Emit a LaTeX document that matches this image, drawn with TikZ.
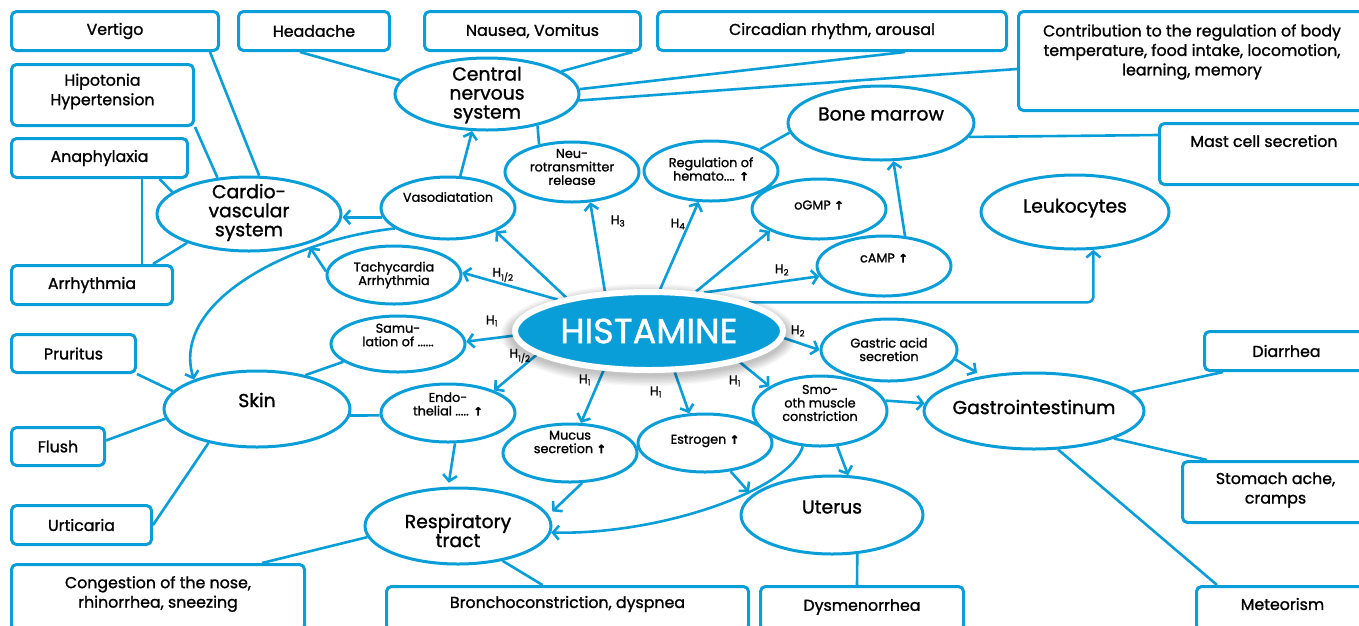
\documentclass[tikz,border=0pt]{standalone}
\usepackage{fontspec}
\setmainfont{Poppins}[FakeBold=1.2]
\newfontfamily\symf{DejaVu Sans}[FakeBold=2.5]
\usetikzlibrary{arrows.meta,shapes.geometric,backgrounds}
\definecolor{hb}{RGB}{10,158,216}
\newcommand\upar{{\symf\bfseries\fontsize{11.5}{11.5}\selectfont ↑}}
\tikzset{
 box/.style={draw=hb, line width=3pt, rounded corners=5pt, fill=white, inner sep=0pt, font=\fontsize{15.8}{19.5}\selectfont, align=center},
 ell/.style={draw=hb, line width=3pt, ellipse, fill=white, inner sep=0pt},
 bt/.style={font=\fontsize{15.8}{19.5}\selectfont, align=center, inner sep=0pt},
 st/.style={font=\fontsize{12.8}{13.5}\selectfont, align=center, inner sep=0pt},
 lt/.style={font=\fontsize{18.8}{19}\selectfont, align=center, inner sep=0pt},
 con/.style={draw=hb, line width=2.6pt},
 arr/.style={con, -{Straight Barb[length=6pt,width=14pt]}},
 hl/.style={font=\fontsize{12.5}{12.5}\selectfont, inner sep=0pt},
}
\begin{document}
\begin{tikzpicture}[x=1pt,y=-1pt]
\useasboundingbox (0,0) rectangle (1359,625);
% ---- boxes
\node[box, minimum width=207, minimum height=39] (vert) at (115,31) {Vertigo};
\node[box, minimum width=151, minimum height=39] (head) at (314,31) {Headache};
\node[box, minimum width=216, minimum height=39] (naus) at (532.5,31) {Nausea, Vomitus};
\node[box, minimum width=349, minimum height=39] (circ) at (832,31) {Circadian rhythm, arousal};
\node[box, minimum width=347, minimum height=99, label={[bt,yshift=9pt]center:{Contribution to the regulation of body\\temperature, food intake, locomotion,\\learning, memory}}] (contr) at (1192,61) {};
\node[box, minimum width=209, minimum height=61, label={[bt,yshift=13pt]center:{Mast cell secretion}}] (mast) at (1264,154) {};
\node[box, minimum width=182, minimum height=61, label={[bt,yshift=3.5pt]center:{Hipotonia\\Hypertension}}] (hipo) at (102.5,95) {};
\node[box, minimum width=176, minimum height=39] (ana) at (99.5,158) {Anaphylaxia};
\node[box, minimum width=161, minimum height=39] (arr) at (92,285) {Arrhythmia};
\node[box, minimum width=124, minimum height=38] (prur) at (73.5,353.5) {Pruritus};
\node[box, minimum width=93, minimum height=38] (flush) at (58,446.5) {Flush};
\node[box, minimum width=140, minimum height=39] (urt) at (81.5,525) {Urticaria};
\node[box, minimum width=293, minimum height=66, label={[bt,yshift=3.5pt]center:{Congestion of the nose,\\rhinorrhea, sneezing}}] (cong) at (158,597.5) {};
\node[box, minimum width=362, minimum height=44, label={[bt,yshift=4.5pt]center:{Bronchoconstriction, dyspnea}}] (bron) at (567.5,608.5) {};
\node[box, minimum width=203, minimum height=44, label={[bt,yshift=1.5pt]center:{Dysmenorrhea}}] (dys) at (862,608.5) {};
\node[box, minimum width=172, minimum height=44, label={[bt,yshift=4.5pt]center:{Meteorism}}] (met) at (1282.5,608.5) {};
\node[box, minimum width=186, minimum height=61, label={[bt,yshift=2pt]center:{Stomach ache,\\cramps}}] (stom) at (1275.5,492) {};
\node[box, minimum width=164, minimum height=39] (diar) at (1286.5,351) {Diarrhea};
% ---- ellipses
\node[ell, minimum width=184, minimum height=72, label={[lt,yshift=-1pt]center:{Central\\nervous\\system}}] (cns) at (487,94) {};
\node[ell, minimum width=184, minimum height=74, label={[lt,yshift=1.5pt]center:{Cardio-\\vascular\\system}}] (cardio) at (249,214) {};
\node[ell, minimum width=134, minimum height=62, label={[st,yshift=11pt]center:{Vasodiatation}}] (vaso) at (448,208) {};
\node[ell, minimum width=134, minimum height=60, label={[st,yshift=5pt]center:{Neu-\\rotransmitter\\release}}] (neuro) at (572,172) {};
\node[ell, minimum width=134, minimum height=60, label={[st,yshift=2pt]center:{Regulation of\\hemato.... \upar}}] (hema) at (711,171) {};
\node[ell, minimum width=186, minimum height=74, label={[lt,yshift=9pt]center:{Bone marrow}}] (bone) at (881,123) {};
\node[ell, minimum width=134, minimum height=60, label={[st,yshift=4pt]center:{oGMP \upar}}] (ogmp) at (819,209) {};
\node[ell, minimum width=134, minimum height=60, label={[st,yshift=8pt]center:{cAMP \upar}}] (camp) at (884,266) {};
\node[ell, minimum width=188, minimum height=74, label={[lt,yshift=4pt]center:{Leukocytes}}] (leuk) at (1075,212) {};
\node[ell, minimum width=134, minimum height=58, label={[st]center:{Tachycardia\\Arrhythmia}}] (tachy) at (394,275) {};
\node[ell, minimum width=134, minimum height=56, label={[st,yshift=9pt]center:{Samu-\\lation of ......}}] (samu) at (398,344) {};
\node[ell, minimum width=186, minimum height=76, label={[lt,yshift=9pt]center:{Skin}}] (skin) at (257,409) {};
\node[ell, minimum width=134, minimum height=58, label={[st,yshift=9pt]center:{Endo-\\thelial ..... \upar}}] (endo) at (448,413) {};
\node[ell, minimum width=134, minimum height=58, label={[st,yshift=11pt]center:{Mucus\\secretion \upar}}] (mucus) at (570,453) {};
\node[ell, minimum width=134, minimum height=58, label={[st,yshift=2pt]center:{Estrogen \upar}}] (estr) at (705,443) {};
\node[ell, minimum width=186, minimum height=76, label={[lt,yshift=-4.5pt]center:{Respiratory\\tract}}] (resp) at (458,526) {};
\node[ell, minimum width=182, minimum height=78, label={[lt,yshift=8pt]center:{Uterus}}] (uter) at (832,515) {};
\node[ell, minimum width=134, minimum height=70, label={[st,yshift=8pt]center:{Smo-\\oth muscle\\constriction}}] (smooth) at (820,411) {};
\node[ell, minimum width=136, minimum height=62, label={[st,yshift=0.5pt]center:{Gastric acid\\secretion}}] (gastric) at (889,350) {};
\node[ell, minimum width=220, minimum height=76, label={[lt,yshift=4pt]center:{Gastrointestinum}}] (gastro) at (1034,411) {};
% ---- histamine with shadow
\foreach \i in {1,...,8}
  \fill[black, opacity=0.03] (649,335) ellipse [x radius={137pt+1.4pt*\i}, y radius={40pt+1.4pt*\i}];
\node[ellipse, fill=hb, draw=white, line width=6pt, minimum width=268, minimum height=78, inner sep=0pt, text=white, font=\fontsize{35}{35}\selectfont] (hist) at (649,331) {HISTAMINE};
% ---- H labels
\node[hl] (h1) at (503,275) {H\textsubscript{1/2}};
\node[hl] (h2) at (618,221) {H\textsubscript{3}};
\node[hl] (h3) at (678,224) {H\textsubscript{4}};
\node[hl] (h4) at (782,270) {H\textsubscript{2}};
\node[hl] (h5) at (492,321) {H\textsubscript{1}};
\node[hl] (h6) at (520,356) {H\textsubscript{1/2}};
\node[hl] (h7) at (585,380) {H\textsubscript{1}};
\node[hl] (h8) at (656,392) {H\textsubscript{1}};
\node[hl] (h9) at (735,381) {H\textsubscript{1}};
\node[hl] (h10) at (798,331) {H\textsubscript{2}};
% ---- connectors
\begin{scope}[on background layer]
\fill[white] (0,0) rectangle (1359,625);
\draw[con] ([xshift=-14pt]head.south) -- (cns.171);
\draw[con] ([xshift=100pt]naus.south) -- (cns.17);
\draw[con] ([xshift=73pt]circ.south) -- (cns.3);
\draw[con] ([yshift=-8pt]contr.west) -- (cns.-4);
\draw[con] ([xshift=-10pt]vert.south east) -- (cardio.75);
\draw[con] (hipo.south east) -- (cardio.131);
\draw[con] ([xshift=60pt]ana.south) -- (cardio.164);
\draw[con] ([xshift=42.5pt]ana.south) -- ([xshift=50pt]arr.north);
\draw[con] ([xshift=61pt]arr.north) -- (cardio.205);
\draw[con] (cns.-32) -- (neuro.140);
\draw[con] (hema.24) -- (bone.186);
\draw[con] (bone.-9) -- ([yshift=19pt]mast.west);
\draw[con] (prur.south east) -- (skin.168);
\draw[con] ([yshift=6pt]flush.east) -- (skin.186);
\draw[con] (urt.east) -- (skin.215);
\draw[con] (skin.35) -- (samu.198);
\draw[con] (skin.-4) -- (endo.182);
\draw[con] (resp.187) -- ([xshift=104pt]cong.north);
\draw[con] (resp.-38) -- ([xshift=-25pt]bron.north);
\draw[con] (uter.-57) -- ([xshift=-5pt]dys.north);
\draw[con] (gastro.11) -- ([xshift=20pt]diar.south west);
\draw[con] (gastro.-19) -- ([xshift=26pt]stom.north west);
\draw[con] (gastro.-58) -- ([xshift=22pt]met.north west);
% arrows
\draw[arr] (vaso.201) .. controls (290,240) and (170,302) .. (skin.155);
\draw[arr] (vaso.188) -- (vaso.188 -| cardio.east);
\draw[arr] (vaso.69) -- (cns.248);
\draw[arr, shorten >=4pt] (tachy.177) -- (cardio.-27);
\draw[arr] (hist.161) -- (tachy.2);
\draw[arr] (hist.158) -- (vaso.-26);
\draw[arr] (hist.138) -- (neuro.-59);
\draw[arr] (hist.75) -- (hema.248);
\draw[arr] (hist.40) -- (ogmp.204);
\draw[arr] (hist.35) -- (camp.189);
\draw[arr] (camp.55) -- (bone.-72);
\draw[arr, rounded corners=6pt] (hist.16) -| (leuk.-64);
\draw[arr] (hist.182) -- (samu.2);
\draw[arr] (hist.192) -- (endo.26);
\draw[arr] (hist.221) -- (mucus.70);
\draw[arr] (hist.-58) -- (estr.118);
\draw[arr] (hist.-19) -- (smooth.154);
\draw[arr] (hist.-3) -- (gastric.180);
\draw[arr, shorten >=6pt] (gastric.-8) -- (gastro.146);
\draw[arr] (smooth.9) -- (gastro.176);
\draw[arr] (smooth.-64) -- (uter.68);
\draw[arr] (smooth.244) .. controls (790,490) and (660,535) .. (resp.-4);
\draw[arr, shorten >=4pt] (estr.-48) -- (uter.166);
\draw[arr, shorten >=5pt] (mucus.-68) -- (resp.7);
\draw[arr, shorten >=4pt] (endo.-77) -- (resp.104);
\end{scope}
\end{tikzpicture}
\end{document}
